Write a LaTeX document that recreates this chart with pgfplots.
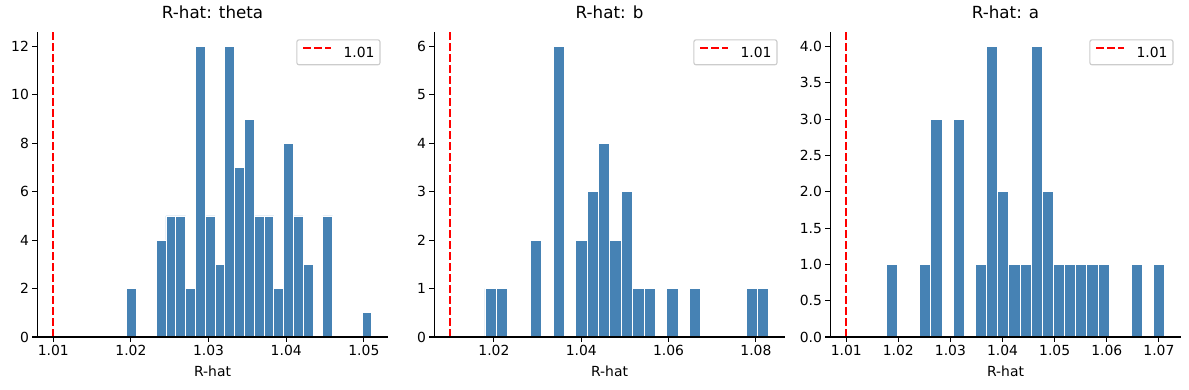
\documentclass[border=0pt]{standalone}
\usepackage{fontspec}
\setmainfont{DejaVu Sans}
\usepackage{pgfplots}
\pgfplotsset{compat=1.18}
\definecolor{steel}{RGB}{70,130,180}
\definecolor{mplred}{RGB}{255,0,0}
\newcommand{\tf}{\fontsize{13.9bp}{16bp}\selectfont}
\pgfplotsset{
 rhat/.style={
  scale only axis, width=350.5bp, height=305bp, anchor=south west,
  axis on top,
  axis x line*=bottom, axis y line*=left,
  axis line style={line width=1.1bp, -},
  tick align=outside, major tick length=4.9bp,
  every tick/.style={black, line width=1.1bp},
  tick label style={font=\tf},
  /pgf/number format/assume math mode=true,
  scaled ticks=false,
  xticklabel style={/pgf/number format/.cd, fixed, fixed zerofill, precision=2},
  ymin=0,
  xlabel={R-hat}, label style={font=\tf},
  title style={font=\fontsize{16.7bp}{20bp}\selectfont, at={(0.5,1)}, anchor=base, yshift=8bp},
  xlabel style={at={(0.5,0)}, anchor=base, yshift=-39.7bp},
  legend style={at={(1,1)}, anchor=north east, xshift=-7.3bp, yshift=-7.3bp,
    draw=black!20, rounded corners=2bp, line width=1.1bp, fill=white,
    fill opacity=0.8, text opacity=1, font=\tf,
    inner xsep=5.5bp, inner ysep=7bp, column sep=11bp,
    nodes={inner sep=0pt, text depth=0pt}},
  legend image code/.code={\draw[#1] (0bp,4.7bp) -- (28bp,4.7bp);},
 },
 histbar/.style={ybar, bar shift=0pt, fill=steel, draw=white, line width=0.8bp, forget plot},
 thr/.style={mplred, line width=2.1bp, dash pattern=on 7.7bp off 3.3bp},
}
\begin{document}
\begin{tikzpicture}
\useasboundingbox (0,0) rectangle (1189bp,390bp);
% Panel 1: theta
\begin{axis}[rhat, at={(37.3bp,53bp)},
  title={R-hat: theta},
  xmin=1.0079485, xmax=1.0530815, ymax=12.6,
  xtick={1.01,1.02,1.03,1.04,1.05}, ytick={0,2,4,6,8,10,12}]
\addplot[histbar, bar width=0.0012624] coordinates {
(1.020101,2) (1.023888,4) (1.025151,5) (1.026413,5) (1.027676,2)
(1.028938,12) (1.030200,5) (1.031463,3) (1.032725,12) (1.033988,7)
(1.035250,9) (1.036512,5) (1.037775,5) (1.039037,2) (1.040300,8)
(1.041562,5) (1.042824,3) (1.045349,5) (1.050399,1)};
\addplot[thr] coordinates {(1.01,0) (1.01,12.6)};
\addlegendentry{1.01}
\end{axis}
% Panel 2: b
\begin{axis}[rhat, at={(434.3bp,53bp)},
  title={R-hat: b},
  xmin=1.0063515, xmax=1.0866185, ymax=6.3,
  xtick={1.02,1.04,1.06,1.08}, ytick={0,1,2,3,4,5,6}]
\addplot[histbar, bar width=0.0026012] coordinates {
(1.019241,1) (1.021842,1) (1.029645,2) (1.034848,6) (1.040050,2)
(1.042651,3) (1.045253,4) (1.047854,2) (1.050455,3) (1.053056,1)
(1.055657,1) (1.060860,1) (1.066062,1) (1.079068,1) (1.081669,1)};
\addplot[thr] coordinates {(1.01,0) (1.01,6.3)};
\addlegendentry{1.01}
\end{axis}
% Panel 3: a
\begin{axis}[rhat, at={(830.3bp,53bp)},
  title={R-hat: a},
  xmin=1.0069425, xmax=1.0742075, ymax=4.2,
  xtick={1.01,1.02,1.03,1.04,1.05,1.06,1.07},
  ytick={0,0.5,1,1.5,2,2.5,3,3.5,4},
  yticklabel style={/pgf/number format/.cd, fixed, fixed zerofill, precision=1}]
\addplot[histbar, bar width=0.0021384] coordinates {
(1.018759,1) (1.025174,1) (1.027313,3) (1.031590,3) (1.035866,1)
(1.038005,4) (1.040143,2) (1.042282,1) (1.044420,1) (1.046558,4)
(1.048697,2) (1.050835,1) (1.052974,1) (1.055112,1) (1.057250,1)
(1.059389,1) (1.065804,1) (1.070081,1)};
\addplot[thr] coordinates {(1.01,0) (1.01,4.2)};
\addlegendentry{1.01}
\end{axis}
\end{tikzpicture}
\end{document}
